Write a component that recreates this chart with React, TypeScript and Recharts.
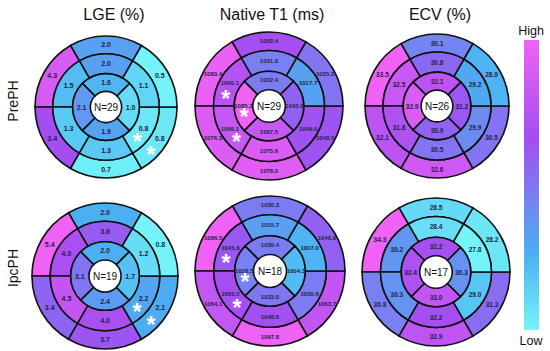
import React from 'react';
import { PieChart, Pie, Cell } from 'recharts';

// segment order, basal + mid rings: anterior, anteroseptal, inferoseptal, inferior, inferolateral, anterolateral
// apical ring: anterior, septal, inferior, lateral
const lgePreBasal = [2.0, 4.3, 3.4, 0.7, 0.8, 0.5];
const lgePreMid = [2.0, 1.5, 1.3, 1.3, 0.8, 1.1];
const lgePreApical = [1.6, 2.1, 1.9, 1.0];
const lgeIpcBasal = [2.0, 5.4, 3.4, 3.7, 2.1, 0.8];
const lgeIpcMid = [3.6, 4.0, 4.5, 4.0, 2.2, 1.2];
const lgeIpcApical = [2.0, 3.1, 2.4, 1.7];

const t1PreBasal = [1052.4, 1083.4, 1076.3, 1078.0, 1048.5, 1035.2];
const t1PreMid = [1031.0, 1060.1, 1066.1, 1075.6, 1049.0, 1017.7];
const t1PreApical = [1032.4, 1085.3, 1067.5, 1043.6];
const t1IpcBasal = [1030.3, 1086.5, 1064.1, 1097.8, 1063.7, 1040.9];
const t1IpcMid = [1015.7, 1045.6, 1050.5, 1048.6, 1030.6, 1007.0];
const t1IpcApical = [1030.4, 1028.5, 1033.0, 1004.3];

const ecvPreBasal = [30.1, 33.5, 32.1, 32.6, 30.5, 28.9];
const ecvPreMid = [30.8, 32.5, 31.8, 30.5, 29.9, 29.2];
const ecvPreApical = [32.1, 32.9, 30.9, 31.2];
const ecvIpcBasal = [28.5, 34.3, 30.8, 32.9, 31.3, 28.2];
const ecvIpcMid = [28.4, 30.2, 30.3, 32.2, 29.0, 27.8];
const ecvIpcApical = [32.2, 32.4, 33.0, 30.3];

const sampleSizes = [29, 29, 26, 19, 18, 17];
const metricTitles = ['LGE (%)', 'Native T1 (ms)', 'ECV (%)'];
const groupLabels = ['PrePH', 'IpcPH'];

// segments marked with an asterisk
const lgeSig = { basal: [4], mid: [4], apical: [] as number[] };
const t1Sig = { basal: [] as number[], mid: [1, 2], apical: [1] };
const noSig = { basal: [] as number[], mid: [] as number[], apical: [] as number[] };

const FONT = 'Liberation Sans, Arial, sans-serif';
const RAD = Math.PI / 180;

const STOPS: [number, number[]][] = [
  [0, [0x74, 0xf4, 0xf8]],
  [0.27, [0x4a, 0xae, 0xf2]],
  [0.45, [0x76, 0x82, 0xf2]],
  [0.66, [0xa2, 0x4e, 0xf2]],
  [1, [0xf0, 0x62, 0xf5]],
];

const colorFor = (v: number, domain: number[]) => {
  const t = Math.max(0, Math.min(1, (v - domain[0]) / (domain[1] - domain[0])));
  for (let i = 1; i < STOPS.length; i++) {
    const [t1, c1] = STOPS[i];
    const [t0, c0] = STOPS[i - 1];
    if (t <= t1) {
      const f = (t - t0) / (t1 - t0);
      const c = c0.map((x, k) => Math.round(x + (c1[k] - x) * f));
      return `rgb(${c[0]},${c[1]},${c[2]})`;
    }
  }
  return 'rgb(240,98,245)';
};

const plots = [
  { basal: lgePreBasal, mid: lgePreMid, apical: lgePreApical, domain: [0.6, 4.8], sig: lgeSig, cx: 101, cy: 102, r: 71, fs: 7 },
  { basal: t1PreBasal, mid: t1PreMid, apical: t1PreApical, domain: [985, 1085], sig: t1Sig, cx: 264, cy: 101, r: 74, fs: 6 },
  { basal: ecvPreBasal, mid: ecvPreMid, apical: ecvPreApical, domain: [27.4, 33.5], sig: noSig, cx: 432, cy: 101, r: 72, fs: 6.5 },
  { basal: lgeIpcBasal, mid: lgeIpcMid, apical: lgeIpcApical, domain: [0.8, 5.4], sig: lgeSig, cx: 100, cy: 271, r: 73, fs: 7 },
  { basal: t1IpcBasal, mid: t1IpcMid, apical: t1IpcApical, domain: [982, 1084], sig: t1Sig, cx: 265, cy: 266, r: 75, fs: 6 },
  { basal: ecvIpcBasal, mid: ecvIpcMid, apical: ecvIpcApical, domain: [27.85, 34.3], sig: noSig, cx: 431, cy: 267, r: 74, fs: 6.5 },
];

const segLabel = (fs: number, sigIdx: number[]) => (props: any) => {
  const { cx, cy, midAngle, innerRadius, outerRadius, index, payload } = props;
  const rr = (innerRadius + outerRadius) / 2;
  const a = -midAngle * RAD;
  const x = cx + rr * Math.cos(a);
  const y = cy + rr * Math.sin(a);
  // asterisk sits a little further round the ring, towards the bottom
  const shift = Math.cos(a) >= 0 ? -14 : 14;
  const b = -(midAngle + shift) * RAD;
  const sx = cx + rr * Math.cos(b);
  const sy = cy + rr * Math.sin(b);
  return (
    <g key={`lab-${index}`}>
      <text x={x} y={y} textAnchor="middle" dominantBaseline="central" fontSize={fs} fontWeight="bold" fill="#23234a" fontFamily={FONT}>
        {payload.value.toFixed(1)}
      </text>
      {sigIdx.includes(index) && (
        <text x={sx} y={sy + 13} textAnchor="middle" fontSize={23} fontWeight="bold" fill="#fff" fontFamily={FONT}>
          *
        </text>
      )}
    </g>
  );
};

const centerLabel = (n: number) => (props: any) => (
  <text key="n" x={props.cx} y={props.cy} textAnchor="middle" dominantBaseline="central" fontSize={10} fill="#111" fontFamily={FONT}>
    {`N=${n}`}
  </text>
);

const toSegments = (values: number[]) => values.map((v) => ({ value: v, size: 1 }));

const App: React.FC = () => (
  <div style={{ position: 'absolute', left: 0, top: 0, width: 550, height: 351, background: '#fff', fontFamily: FONT }}>
    <PieChart width={550} height={351}>
      {plots.flatMap((p, k) => {
        const rings = [
          { vals: p.basal, inner: 0.75, outer: 1, start: 60, sig: p.sig.basal },
          { vals: p.mid, inner: 0.47, outer: 0.75, start: 60, sig: p.sig.mid },
          { vals: p.apical, inner: 0.22, outer: 0.47, start: 45, sig: p.sig.apical },
        ];
        return [
          <Pie
            key={`p${k}-c`}
            data={[{ size: 1 }]}
            dataKey="size"
            cx={p.cx}
            cy={p.cy}
            innerRadius={0}
            outerRadius={p.r * 0.22}
            fill="#fff"
            stroke="none"
            labelLine={false}
            label={centerLabel(sampleSizes[k])}
            isAnimationActive={false}
          />,
          ...rings.map((ring, j) => (
            <Pie
              key={`p${k}-${j}`}
              data={toSegments(ring.vals)}
              dataKey="size"
              cx={p.cx}
              cy={p.cy}
              innerRadius={p.r * ring.inner}
              outerRadius={p.r * ring.outer}
              startAngle={ring.start}
              endAngle={ring.start + 360}
              stroke="#111"
              strokeWidth={1.6}
              labelLine={false}
              label={segLabel(p.fs, ring.sig)}
              isAnimationActive={false}
            >
              {ring.vals.map((v, i) => (
                <Cell key={i} fill={colorFor(v, p.domain)} />
              ))}
            </Pie>
          )),
        ];
      })}
    </PieChart>
    {metricTitles.map((t, i) => (
      <div key={t} style={{ position: 'absolute', left: [114, 272, 440][i] - 60, top: 5, width: 120, textAlign: 'center', fontSize: 16, color: '#111', lineHeight: '20px' }}>
        {t}
      </div>
    ))}
    {groupLabels.map((g, i) => (
      <div key={g} style={{ position: 'absolute', left: 13 - 30, top: [101, 268][i] - 10, width: 60, height: 20, textAlign: 'center', fontSize: 14, lineHeight: '20px', color: '#111', transform: 'rotate(-90deg)' }}>
        {g}
      </div>
    ))}
    <div style={{ position: 'absolute', left: 505, top: 24, width: 52, textAlign: 'center', fontSize: 12.5, color: '#111' }}>High</div>
    <div
      style={{
        position: 'absolute',
        left: 524,
        top: 40,
        width: 15,
        height: 290,
        background: 'linear-gradient(to bottom, #f062f5 0%, #a24ef2 34%, #7682f2 55%, #4aaef2 73%, #74f4f8 100%)',
      }}
    />
    <div style={{ position: 'absolute', left: 505, top: 334, width: 52, textAlign: 'center', fontSize: 12.5, color: '#111' }}>Low</div>
  </div>
);

export default App;
